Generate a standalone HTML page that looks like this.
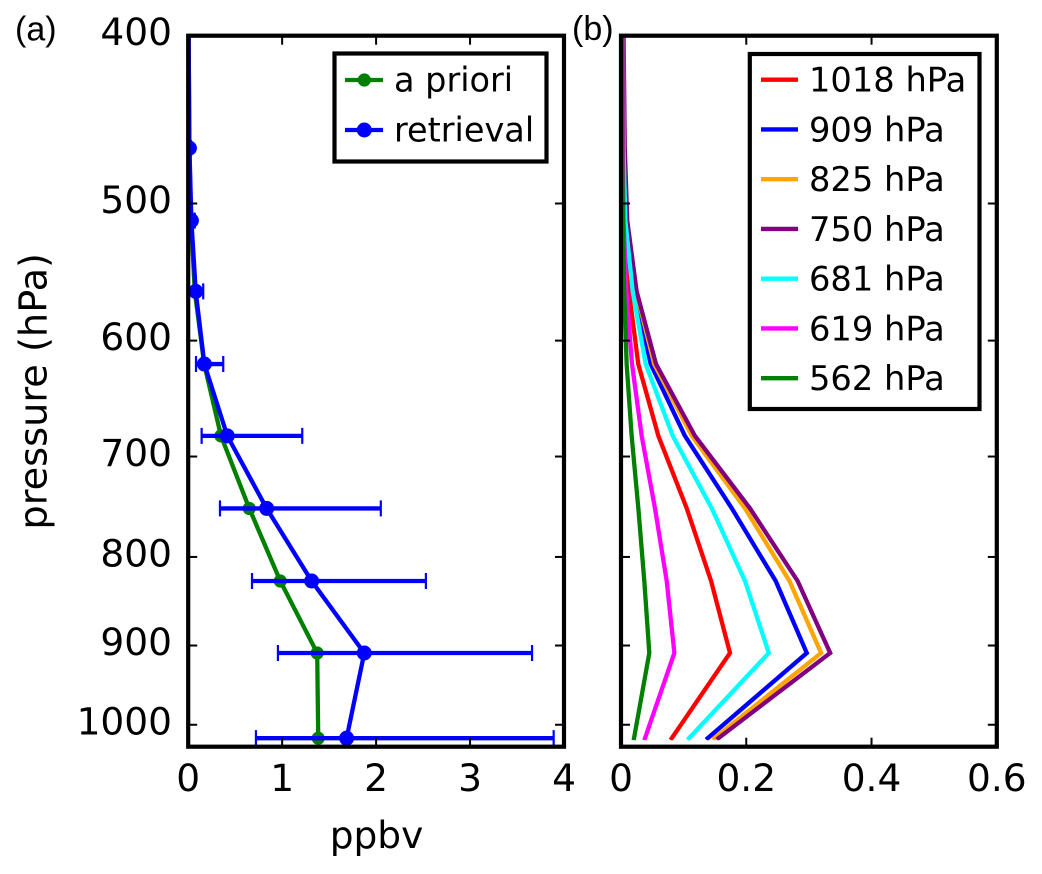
<!DOCTYPE html>
<html lang="en">
<head>
<meta charset="utf-8">
<title>Pressure profiles</title>
<style>
html,body{margin:0;padding:0;background:#fff;}
svg{display:block;}
text{font-family:"DejaVu Sans","Liberation Sans",sans-serif;fill:#000;}
</style>
</head>
<body>
<svg id="chart" xmlns="http://www.w3.org/2000/svg" width="1042" height="874" viewBox="0 0 1042 874">
  <defs>
    <clipPath id="clip-a"><rect x="188.2" y="35.7" width="375.8" height="711"/></clipPath>
    <clipPath id="clip-b"><rect x="621" y="35.7" width="375.8" height="704.6"/></clipPath>
  </defs>
</svg>
<script>
const levels = [1018, 909, 826, 750, 681, 619, 562, 511.5, 464.5, 395];
const aPriori = [1.384, 1.373, 0.98, 0.65, 0.349, 0.17, 0.07, 0.03, 0.012, 0.004];
const retrieval = [1.686, 1.874, 1.314, 0.835, 0.416, 0.172, 0.08, 0.034, 0.013, 0.004];
const errLow = [0.721, 0.955, 0.679, 0.338, 0.143, 0.083, 0.0, 0.01, 0.005, 0.002];
const errHigh = [3.89, 3.66, 2.53, 2.05, 1.214, 0.373, 0.16, 0.07, 0.03, 0.008];

const ak1018 = [0.081, 0.174, 0.1438, 0.105, 0.0596, 0.0276, 0.0127, 0.006, 0.004, 0.003];
const ak909 = [0.1385, 0.2966, 0.247, 0.177, 0.102, 0.0474, 0.022, 0.008, 0.004, 0.003];
const ak825 = [0.149, 0.3195, 0.269, 0.198, 0.113, 0.053, 0.024, 0.009, 0.004, 0.003];
const ak750 = [0.1555, 0.334, 0.282, 0.206, 0.118, 0.0559, 0.025, 0.01, 0.006, 0.004];
const ak681 = [0.1086, 0.236, 0.198, 0.145, 0.0826, 0.0394, 0.0187, 0.007, 0.004, 0.003];
const ak619 = [0.0383, 0.0852, 0.073, 0.0543, 0.033, 0.0176, 0.0085, 0.004, 0.003, 0.003];
const ak562 = [0.0208, 0.0452, 0.0372, 0.0277, 0.017, 0.009, 0.005, 0.003, 0.002, 0.002];
const akLabels = ['1018 hPa', '909 hPa', '825 hPa', '750 hPa', '681 hPa', '619 hPa', '562 hPa'];
const akNames = ['1018', '909', '825', '750', '681', '619', '562'];
const akColors = ['#ff0000', '#0000ff', '#ffa500', '#800080', '#00ffff', '#ff00ff', '#008000'];
const akSeries = [ak1018, ak909, ak825, ak750, ak681, ak619, ak562];

const yTicks = [400, 500, 600, 700, 800, 900, 1000];
const xTicksA = [0, 1, 2, 3, 4];
const xTicksB = [0, 0.2, 0.4, 0.6];

const svg = document.getElementById('chart');
const NS = 'http://www.w3.org/2000/svg';
const PLOT_TOP = 35.7, PLOT_BOTTOM = 746.7;
const A_LEFT = 188.2, A_RIGHT = 564, B_LEFT = 621, B_RIGHT = 996.8;

function yP(p) { return PLOT_TOP + 752 * Math.log(p / 400); }
function xA(v) { return A_LEFT + v * (A_RIGHT - A_LEFT) / 4; }
function xB(v) { return B_LEFT + v * (B_RIGHT - B_LEFT) / 0.6; }

function add(parent, tag, attrs, name) {
  const el = document.createElementNS(NS, tag);
  for (const k in attrs) el.setAttribute(k, attrs[k]);
  
  
  parent.appendChild(el);
  return el;
}
function label(parent, x, y, str, size, anchor, name, extra) {
  const t = add(parent, 'text', Object.assign({x: x, y: y, 'font-size': size, 'text-anchor': anchor}, extra || {}), name);
  t.textContent = str;
  return t;
}
function pts(xs, xf) {
  return xs.map(function (v, i) { return xf(v).toFixed(2) + ',' + yP(levels[i]).toFixed(2); }).join(' ');
}
function frame(parent, x0, x1, name) {
  add(parent, 'rect', {x: x0, y: PLOT_TOP, width: x1 - x0, height: PLOT_BOTTOM - PLOT_TOP, fill: 'none', stroke: '#000', 'stroke-width': 4.2}, name);
}
function ticks(parent, x0, x1, xVals, xf, prefix) {
  yTicks.forEach(function (p) {
    const y = yP(p);
    add(parent, 'line', {x1: x0, x2: x0 + 9, y1: y, y2: y, stroke: '#000', 'stroke-width': 2}, prefix + '-y-tick-left-' + p);
    add(parent, 'line', {x1: x1, x2: x1 - 9, y1: y, y2: y, stroke: '#000', 'stroke-width': 2}, prefix + '-y-tick-right-' + p);
  });
  xVals.forEach(function (v) {
    const x = xf(v);
    add(parent, 'line', {x1: x, x2: x, y1: PLOT_BOTTOM, y2: PLOT_BOTTOM - 9, stroke: '#000', 'stroke-width': 2}, prefix + '-x-tick-bottom-' + v);
    add(parent, 'line', {x1: x, x2: x, y1: PLOT_TOP, y2: PLOT_TOP + 9, stroke: '#000', 'stroke-width': 2}, prefix + '-x-tick-top-' + v);
    label(parent, x, 791, String(v), 37.5, 'middle', prefix + '-x-tick-label-' + v);
  });
}

/* Panel (a) */
const panelA = add(svg, 'g', {}, 'panel-a');
const marksA = add(panelA, 'g', {'clip-path': 'url(#clip-a)'}, 'panel-a-series');
add(marksA, 'polyline', {points: pts(aPriori, xA), fill: 'none', stroke: '#008000', 'stroke-width': 4.3, 'stroke-linejoin': 'miter'}, 'a-priori-line');
aPriori.forEach(function (v, i) {
  add(marksA, 'circle', {cx: xA(v), cy: yP(levels[i]), r: 6.6, fill: '#008000'}, 'a-priori-point-' + levels[i]);
});
retrieval.forEach(function (v, i) {
  const y = yP(levels[i]);
  add(marksA, 'line', {x1: xA(errLow[i]), x2: xA(errHigh[i]), y1: y, y2: y, stroke: '#0000ff', 'stroke-width': 4.3}, 'retrieval-error-bar-' + levels[i]);
  add(marksA, 'line', {x1: xA(errLow[i]), x2: xA(errLow[i]), y1: y - 8, y2: y + 8, stroke: '#0000ff', 'stroke-width': 2.2}, 'retrieval-error-cap-low-' + levels[i]);
  add(marksA, 'line', {x1: xA(errHigh[i]), x2: xA(errHigh[i]), y1: y - 8, y2: y + 8, stroke: '#0000ff', 'stroke-width': 2.2}, 'retrieval-error-cap-high-' + levels[i]);
});
add(marksA, 'polyline', {points: pts(retrieval, xA), fill: 'none', stroke: '#0000ff', 'stroke-width': 4.3}, 'retrieval-line');
retrieval.forEach(function (v, i) {
  add(marksA, 'circle', {cx: xA(v), cy: yP(levels[i]), r: 7.5, fill: '#0000ff'}, 'retrieval-point-' + levels[i]);
});
frame(panelA, A_LEFT, A_RIGHT, 'panel-a-frame');
ticks(panelA, A_LEFT, A_RIGHT, xTicksA, xA, 'panel-a');
yTicks.forEach(function (p) {
  label(panelA, 172, yP(p) + 9.5, String(p), 37.5, 'end', 'y-tick-label-' + p);
});
label(panelA, 376.5, 848, 'ppbv', 37.5, 'middle', 'x-axis-title');
label(panelA, 0, 0, 'pressure (hPa)', 38.3, 'middle', 'y-axis-title', {transform: 'translate(46.7,391.3) rotate(-90)'});
label(panelA, 15, 40.5, '(a)', 34, 'start', 'panel-a-label', {style: 'font-family:"Liberation Sans",sans-serif'});

const legendA = add(panelA, 'g', {}, 'legend-a');
add(legendA, 'rect', {x: 334.5, y: 53.5, width: 212, height: 108, fill: '#fff', stroke: '#000', 'stroke-width': 4.2}, 'legend-a-box');
add(legendA, 'line', {x1: 345, x2: 383, y1: 80, y2: 80, stroke: '#008000', 'stroke-width': 4.3}, 'legend-a-priori-line');
add(legendA, 'circle', {cx: 364.3, cy: 80, r: 6.6, fill: '#008000'}, 'legend-a-priori-marker');
label(legendA, 394, 91.7, 'a priori', 33.5, 'start', 'legend-a-priori-label');
add(legendA, 'line', {x1: 345, x2: 383, y1: 130, y2: 130, stroke: '#0000ff', 'stroke-width': 4.3}, 'legend-retrieval-line');
add(legendA, 'circle', {cx: 364.3, cy: 130, r: 7.5, fill: '#0000ff'}, 'legend-retrieval-marker');
label(legendA, 394, 141.7, 'retrieval', 33.5, 'start', 'legend-retrieval-label');

/* Panel (b) */
const panelB = add(svg, 'g', {}, 'panel-b');
const marksB = add(panelB, 'g', {'clip-path': 'url(#clip-b)'}, 'panel-b-series');
akSeries.forEach(function (vals, i) {
  add(marksB, 'polyline', {points: pts(vals, xB), fill: 'none', stroke: akColors[i], 'stroke-width': 4.3, 'stroke-linecap': 'square'}, 'kernel-line-' + akNames[i]);
});
frame(panelB, B_LEFT, B_RIGHT, 'panel-b-frame');
ticks(panelB, B_LEFT, B_RIGHT, xTicksB, xB, 'panel-b');
label(panelB, 572, 40, '(b)', 34, 'start', 'panel-b-label', {style: 'font-family:"Liberation Sans",sans-serif'});

const legendB = add(panelB, 'g', {}, 'legend-b');
add(legendB, 'rect', {x: 749.8, y: 54, width: 229.7, height: 355, fill: '#fff', stroke: '#000', 'stroke-width': 4.2}, 'legend-b-box');
akLabels.forEach(function (txt, i) {
  const y = 79.7 + i * 49.75;
  add(legendB, 'line', {x1: 761, x2: 798, y1: y, y2: y, stroke: akColors[i], 'stroke-width': 4.3}, 'legend-line-' + akNames[i]);
  label(legendB, 809, y + 12, txt, 33.7, 'start', 'legend-label-' + akNames[i]);
});
</script>
</body>
</html>
